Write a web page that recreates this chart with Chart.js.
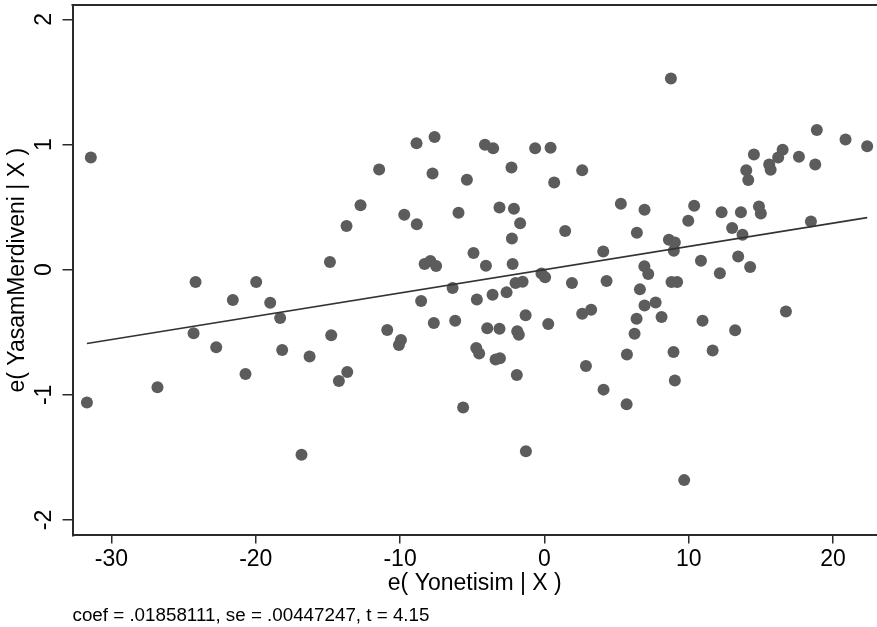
<!DOCTYPE html>
<html>
<head>
<meta charset="utf-8">
<title>e( YasamMerdiveni | X )</title>
<script src="https://cdn.jsdelivr.net/npm/chart.js@4/dist/chart.umd.min.js"></script>
<style>
  body { margin: 0; background: #fff; }
</style>
</head>
<body>
<canvas id="avplot" width="877" height="627"></canvas>

<script>
  // points
  const resX = [
    -31.43, -31.7, -26.81, -24.17, -24.31, -22.74, -21.59, -20.71, -19.97, -19.0,
    -18.31, -18.17, -16.83, -16.27, -14.86, -14.77, -14.24, -13.71, -13.66, -12.74,
    -11.45, -10.89, -9.94, -10.08, -9.71, -8.86, -8.84, -8.54, -8.3, -7.9,
    -7.5, -7.61, -7.75, -7.66, -6.36, -6.18, -5.95, -5.63, -5.37, -4.91,
    -4.72, -4.52, -4.68, -4.12, -4.05, -3.96, -3.59, -3.55, -3.38, -3.11,
    -3.11, -3.08, -2.62, -2.28, -2.25, -2.2, -2.11, -2.0, -1.91, -1.88,
    -1.77, -1.68, -1.51, -1.30, -1.28, -0.64, -0.2, 0.05, 0.27, 0.43,
    0.68, 1.44, 1.91, 2.62, 2.62, 2.88, 3.24, 4.08, 4.10, 4.31,
    5.30, 5.70, 5.72, 6.25, 6.39, 6.41, 6.62, 6.93, 6.94, 6.94,
    7.2, 7.71, 8.12, 8.63, 8.77, 8.81, 8.95, 8.97, 9.04, 9.04,
    9.2, 9.69, 9.97, 10.38, 10.85, 10.96, 11.66, 12.16, 12.28, 13.01,
    13.22, 13.43, 13.62, 13.73, 13.99, 14.13, 14.26, 14.52, 14.87, 15.0,
    15.58, 15.68, 16.2, 16.51, 16.74, 17.64, 18.47, 18.77, 18.88, 20.87,
    22.37
  ];
  const resY = [
    0.896, -1.061, -0.939, -0.098, -0.508, -0.62, -0.242, -0.833, -0.098, -0.263,
    -0.386, -0.641, -1.479, -0.694, 0.061, -0.524, -0.889, 0.349, -0.817, 0.516,
    0.801, -0.481, -0.561, -0.601, 0.439, 1.011, 0.364, -0.25, 0.045, 0.07,
    0.03, 1.061, 0.769, -0.426, -0.146, -0.407, 0.455, -1.101, 0.718, 0.133,
    -0.625, -0.67, -0.237, 0.998, 0.032, -0.468, -0.2, 0.971, -0.718, 0.497,
    -0.471, -0.708, -0.181, 0.817, 0.25, 0.045, 0.487, -0.106, -0.841, -0.492,
    -0.519, 0.372, -0.096, -0.364, -1.45, 0.971, -0.03, -0.06, -0.434, 0.974,
    0.697, 0.309, -0.106, 0.795, -0.351, -0.769, -0.319, 0.146, -0.958, -0.09,
    0.527, -1.075, -0.678, -0.511, -0.391, 0.295, -0.157, 0.027, 0.479, -0.285,
    -0.035, -0.261, -0.378, 0.239, 1.527, -0.098, -0.657, 0.152, 0.218, -0.886,
    -0.098, -1.681, 0.391, 0.511, 0.072, -0.407, -0.646, -0.029, 0.46, 0.333,
    -0.484, 0.106, 0.46, 0.279, 0.795, 0.716, 0.021, 0.92, 0.505, 0.449,
    0.841, 0.798, 0.896, 0.958, -0.333, 0.902, 0.386, 0.841, 1.117, 1.04,
    0.987
  ];

  // fitted line ends
  const fitX = [-31.7, 22.37];
  const fitY = [-0.589, 0.416];

  const xTicks = [-30, -20, -10, 0, 10, 20];
  const yTicks = [-2, -1, 0, 1, 2];

  const xTitle = "e( Yonetisim | X )";
  const yTitle = "e( YasamMerdiveni | X )";
  const note = "coef = .01858111, se = .00447247, t = 4.15";

  const ink = "#2b2b2b";
  const font = "'Liberation Sans', Arial, sans-serif";

  // top edge of the plot box
  const topEdge = {
    id: "topEdge",
    afterDraw(chart) {
      const {ctx, chartArea} = chart;
      ctx.save();
      ctx.strokeStyle = ink;
      ctx.lineWidth = 2;
      ctx.beginPath();
      ctx.moveTo(chartArea.left - 1, chartArea.top);
      ctx.lineTo(chartArea.right, chartArea.top);
      ctx.stroke();
      ctx.restore();
    }
  };

  new Chart(document.getElementById("avplot"), {
    type: "scatter",
    data: {
      datasets: [
        {
          type: "line",
          data: fitX.map((x, i) => ({x, y: fitY[i]})),
          borderColor: "#333333",
          borderWidth: 1.6,
          pointRadius: 0,
          fill: false,
          tension: 0
        },
        {
          data: resX.map((x, i) => ({x, y: resY[i]})),
          backgroundColor: "#5c5c5c",
          borderWidth: 0,
          pointRadius: 6,
          pointHoverRadius: 6
        }
      ]
    },
    options: {
      responsive: false,
      animation: false,
      layout: { autoPadding: false, padding: { top: 5, right: 0, left: 0, bottom: 0 } },
      plugins: {
        legend: { display: false },
        tooltip: { enabled: false },
        title: {
          display: true,
          text: note,
          position: "bottom",
          align: "start",
          fullSize: false,
          color: "#000",
          font: { family: font, size: 18.8, weight: "normal" },
          padding: { top: 7, bottom: 0 }
        }
      },
      scales: {
        x: {
          type: "linear",
          min: -32.7,
          max: 23.05,
          afterBuildTicks: s => { s.ticks = xTicks.map(v => ({value: v})); },
          afterFit: s => { s.height = 62; s.paddingLeft = 0; s.paddingRight = 0; },
          grid: { display: true, drawOnChartArea: false, drawTicks: true, tickLength: 8, color: ink, lineWidth: 1.5 },
          border: { display: true, color: ink, width: 2 },
          ticks: {
            color: "#000",
            padding: 2,
            maxRotation: 0,
            font: { family: font, size: 23 },
            callback: v => String(v)
          },
          title: {
            display: true,
            text: xTitle,
            color: "#000",
            font: { family: font, size: 23 },
            padding: 0
          }
        },
        y: {
          type: "linear",
          min: -2.123,
          max: 2.115,
          afterBuildTicks: s => { s.ticks = yTicks.map(v => ({value: v})); },
          afterFit: s => { s.width = 72.5; s.paddingTop = 0; s.paddingBottom = 0; },
          grid: { display: true, drawOnChartArea: false, drawTicks: true, tickLength: 10, color: ink, lineWidth: 1.5 },
          border: { display: true, color: ink, width: 2 },
          ticks: {
            color: "#000",
            padding: 8,
            minRotation: 90,
            maxRotation: 90,
            crossAlign: "center",
            font: { family: font, size: 23 },
            callback: v => String(v)
          },
          title: {
            display: true,
            text: yTitle,
            color: "#000",
            font: { family: font, size: 23 },
            padding: { top: 4, bottom: 0 }
          }
        }
      }
    },
    plugins: [topEdge]
  });
</script>
</body>
</html>
